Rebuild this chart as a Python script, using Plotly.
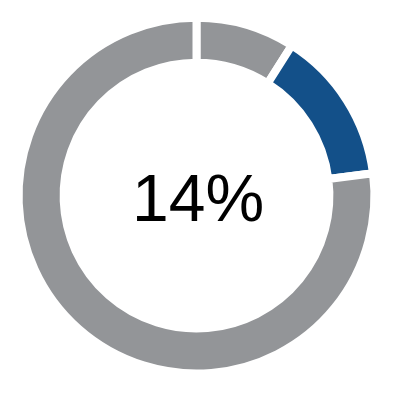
import plotly.graph_objects as go

labels = ["Other A", "Share", "Other B"]
values = [9, 14, 77]
colors = ["#939598", "#135089", "#939598"]
center_text = "14%"

fig = go.Figure(go.Pie(
    labels=labels,
    values=values,
    sort=False,
    direction="clockwise",
    rotation=0,
    hole=0.747,
    marker=dict(colors=colors, line=dict(color="#ffffff", width=8)),
    textinfo="none",
    hoverinfo="none",
    showlegend=False,
    domain=dict(x=[0.047, 0.953], y=[0.0496, 0.955]),
))

fig.add_annotation(
    text=center_text, x=197.5 / 393, y=1 - 198 / 393,
    xref="paper", yref="paper", xanchor="center", yanchor="middle",
    showarrow=False,
    font=dict(family="Liberation Sans, Arial, sans-serif", size=66, color="#000000"),
)

fig.update_layout(
    width=393, height=393,
    margin=dict(l=0, r=0, t=0, b=0),
    paper_bgcolor="#ffffff", plot_bgcolor="#ffffff",
)

fig.write_html("out.html")
